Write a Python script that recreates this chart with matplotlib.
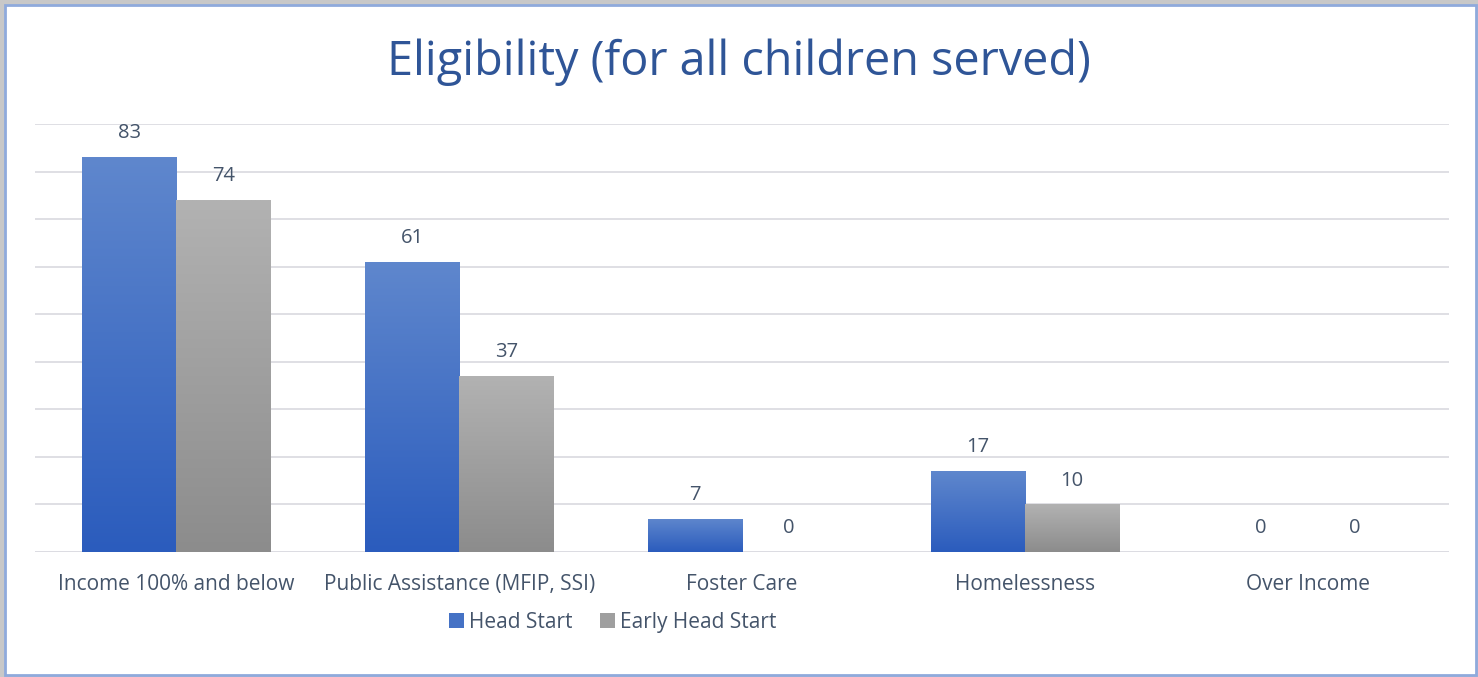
import matplotlib
matplotlib.use("Agg")
import matplotlib.pyplot as plt
import numpy as np
from matplotlib.colors import LinearSegmentedColormap
from matplotlib.patches import Rectangle

categories = ["Income 100% and below", "Public Assistance (MFIP, SSI)", "Foster Care",
              "Homelessness", "Over Income"]
head_start = [83, 61, 7, 17, 0]
early_head_start = [74, 37, 0, 10, 0]
series_names = ["Head Start", "Early Head Start"]

W, H = 1478, 677
fig = plt.figure(figsize=(W / 100, H / 100), dpi=100)
fig.patch.set_facecolor("white")

# frame: shadow and border
fig.patches.append(Rectangle((0, 0), 1, 1, transform=fig.transFigure,
                             facecolor="#c8c8c8", edgecolor="none", zorder=-3))
fig.patches.append(Rectangle((5 / W, 2 / H), (W - 7) / W, (H - 7) / H, transform=fig.transFigure,
                             facecolor="white", edgecolor="#8faadc", linewidth=2, zorder=-2))

font = "Open Sans"
txt = "#44546a"

ax = fig.add_axes([35 / W, 125 / H, (1449 - 35) / W, (552 - 124) / H])
ax.set_facecolor("none")
x = np.arange(len(categories))
w = 1 / 3
b1 = ax.bar(x - w / 2, head_start, w, color="#4472c4", zorder=2)
b2 = ax.bar(x + w / 2, early_head_start, w, color="#a5a5a5", zorder=2)

cm1 = LinearSegmentedColormap.from_list("c1", ["#2b5cbd", "#5f87cd"])
cm2 = LinearSegmentedColormap.from_list("c2", ["#8c8c8c", "#b2b2b2"])
grad = np.linspace(0, 1, 256).reshape(-1, 1)
for bars, cm in ((b1, cm1), (b2, cm2)):
    for r in bars:
        h = r.get_height()
        if h <= 0:
            continue
        x0 = r.get_x()
        im = ax.imshow(grad, cmap=cm, origin="lower", aspect="auto",
                       extent=(x0, x0 + r.get_width(), 0, h), zorder=3)
        im.set_clip_path(r)

ax.set_xlim(-0.5, len(categories) - 0.5)
ax.set_ylim(0, 90)
ax.set_yticks(np.arange(0, 91, 10))
ax.yaxis.grid(True, color="#dcdce2", linewidth=1.3, zorder=0)
ax.tick_params(left=False, labelleft=False, bottom=False)
for s in ax.spines.values():
    s.set_visible(False)
ax.axhline(0, color="#dcdce2", linewidth=1.3, zorder=1)
ax.set_xticks(x)
ax.set_xticklabels(categories, fontsize=15, color=txt, family=font)
ax.tick_params(axis="x", pad=12)

for bars, vals in ((b1, head_start), (b2, early_head_start)):
    for r, v in zip(bars, vals):
        ax.annotate(str(v), (r.get_x() + r.get_width() / 2, v), xytext=(0, 10),
                    textcoords="offset points", ha="center", va="bottom",
                    fontsize=14.5, color=txt, family=font)

fig.text(0.5, 1 - 62 / H, "Eligibility (for all children served)", ha="center", va="center",
         fontsize=33.7, color="#2f5597", family=font)

# legend (drawn manually so both labels share a baseline)
leg_colors = [cm1(0.5), cm2(0.5)]
leg_x = [449, 600]
for name, col, lx in zip(series_names, leg_colors, leg_x):
    fig.patches.append(Rectangle((lx / W, 1 - 628 / H), 15 / W, 15 / H, transform=fig.transFigure,
                                 facecolor=col, edgecolor="none"))
    fig.text((lx + 20) / W, 1 - 628 / H, name, ha="left", va="baseline",
             fontsize=15, color=txt, family=font)

fig.savefig("out.png", dpi=100, facecolor="white")
